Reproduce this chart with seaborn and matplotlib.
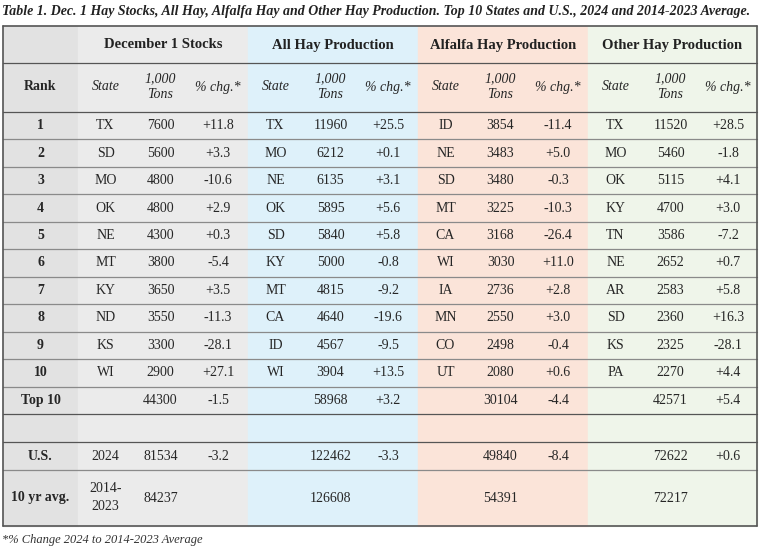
import matplotlib
matplotlib.use("Agg")
import matplotlib.pyplot as plt
import seaborn as sns
from matplotlib.patches import Rectangle

sns.set_theme(style="white")
plt.rcParams['font.family'] = ['Liberation Serif', 'DejaVu Serif']

ranks = ["1", "2", "3", "4", "5", "6", "7", "8", "9", "10"]
stock_states = ["TX", "SD", "MO", "OK", "NE", "MT", "KY", "ND", "KS", "WI"]
stock_tons = [7600, 5600, 4800, 4800, 4300, 3800, 3650, 3550, 3300, 2900]
stock_pct = ["+11.8", "+3.3", "-10.6", "+2.9", "+0.3", "-5.4", "+3.5", "-11.3", "-28.1", "+27.1"]
all_states = ["TX", "MO", "NE", "OK", "SD", "KY", "MT", "CA", "ID", "WI"]
all_tons = [11960, 6212, 6135, 5895, 5840, 5000, 4815, 4640, 4567, 3904]
all_pct = ["+25.5", "+0.1", "+3.1", "+5.6", "+5.8", "-0.8", "-9.2", "-19.6", "-9.5", "+13.5"]
alf_states = ["ID", "NE", "SD", "MT", "CA", "WI", "IA", "MN", "CO", "UT"]
alf_tons = [3854, 3483, 3480, 3225, 3168, 3030, 2736, 2550, 2498, 2080]
alf_pct = ["-11.4", "+5.0", "-0.3", "-10.3", "-26.4", "+11.0", "+2.8", "+3.0", "-0.4", "+0.6"]
oth_states = ["TX", "MO", "OK", "KY", "TN", "NE", "AR", "SD", "KS", "PA"]
oth_tons = [11520, 5460, 5115, 4700, 3586, 2652, 2583, 2360, 2325, 2270]
oth_pct = ["+28.5", "-1.8", "+4.1", "+3.0", "-7.2", "+0.7", "+5.8", "+16.3", "-28.1", "+4.4"]
top10_tons = [44300, 58968, 30104, 42571]
top10_pct = ["-1.5", "+3.2", "-4.4", "+5.4"]
us_tons = [81534, 122462, 49840, 72622]
us_pct = ["-3.2", "-3.3", "-8.4", "+0.6"]
avg_tons = [84237, 126608, 54391, 72217]
groups = ["December 1 Stocks", "All Hay Production", "Alfalfa Hay Production", "Other Hay Production"]
title = "Table 1. Dec. 1 Hay Stocks, All Hay, Alfalfa Hay and Other Hay Production. Top 10 States and U.S., 2024 and 2014-2023 Average."
footnote = "*% Change 2024 to 2014-2023 Average"

W, H = 767, 548
fig = plt.figure(figsize=(W / 100, H / 100), dpi=100)
ax = fig.add_axes([0, 0, 1, 1])
ax.set_xlim(0, W)
ax.set_ylim(H, 0)
ax.axis("off")

L, R, T, B = 3, 757, 26, 526
gx = [78, 248, 418, 588, 757]
sub_w = [55, 55, 60]
gcol = ["#ebebeb", "#def1fa", "#fbe4d9", "#eff5ea"]
ax.add_patch(Rectangle((L, T), gx[0] - L, B - T, color="#e2e2e2", zorder=0))
for i in range(4):
    ax.add_patch(Rectangle((gx[i], T), gx[i + 1] - gx[i], B - T, color=gcol[i], zorder=0))

rows_y = [112 + 27.5 * k for k in range(12)]  # boundaries rows 1..10 + top10
top10_bot = 414
hlines = [T, 63, 112] + [112 + (top10_bot - 112) / 11 * k for k in range(1, 12)] + [442, 470, B]
row_edges = [112 + (top10_bot - 112) / 11 * k for k in range(12)]
for y in hlines:
    lw = 1.2 if y in (T, B) else 0.9
    ax.plot([L, R], [y, y], color="#555555" if y in (T, B, 63, 112, top10_bot, 442) else "#8a8a8a", lw=lw, zorder=2)
ax.plot([L, L], [T, B], color="#555555", lw=1.2)
ax.plot([R, R], [T, B], color="#555555", lw=1.2)

ax.text(2, 12, title, fontsize=10, fontweight="bold", style="italic", va="center", ha="left", color="#222222")
ax.text(2, 540, footnote, fontsize=9, style="italic", va="center", ha="left", color="#333333")

fs = 10
ax.text((L + gx[0]) / 2, 87, "Rank", fontsize=fs, fontweight="bold", ha="center", va="center")
for i, g in enumerate(groups):
    ax.text((gx[i] + gx[i + 1]) / 2, 45, g, fontsize=fs + 0.5, fontweight="bold", ha="center", va="center", color="#222222")
    x0 = gx[i]
    centers = [x0 + 27.5, x0 + 82.5, x0 + 140]
    ax.text(centers[0], 87, "State", fontsize=fs, style="italic", ha="center", va="center")
    ax.text(centers[1], 87, "1,000\nTons", fontsize=fs, style="italic", ha="center", va="center", linespacing=1.3)
    ax.text(centers[2], 87, "% chg.*", fontsize=fs, style="italic", ha="center", va="center")

cols = [(stock_states, stock_tons, stock_pct), (all_states, all_tons, all_pct),
        (alf_states, alf_tons, alf_pct), (oth_states, oth_tons, oth_pct)]
for r in range(10):
    yc = (row_edges[r] + row_edges[r + 1]) / 2
    ax.text((L + gx[0]) / 2, yc, ranks[r], fontsize=fs, fontweight="bold", ha="center", va="center")
    for i, (s, t, p) in enumerate(cols):
        x0 = gx[i]
        ax.text(x0 + 27.5, yc, s[r], fontsize=fs, ha="center", va="center")
        ax.text(x0 + 82.5, yc, str(t[r]), fontsize=fs, ha="center", va="center")
        ax.text(x0 + 140, yc, p[r], fontsize=fs, ha="center", va="center")

def summary(yc, label, tons, pct, state=None):
    ax.text((L + gx[0]) / 2, yc, label, fontsize=fs, fontweight="bold", ha="center", va="center")
    for i in range(4):
        x0 = gx[i]
        ax.text(x0 + 82.5, yc, str(tons[i]), fontsize=fs, ha="center", va="center")
        if pct is not None:
            ax.text(x0 + 140, yc, pct[i], fontsize=fs, ha="center", va="center")
    if state:
        ax.text(gx[0] + 27.5, yc, state, fontsize=fs, ha="center", va="center", linespacing=1.5)

summary((row_edges[10] + row_edges[11]) / 2, "Top 10", top10_tons, top10_pct)
summary(456, "U.S.", us_tons, us_pct, "2024")
summary(498, "10 yr avg.", avg_tons, None, "2014-\n2023")

fig.savefig("out.png", dpi=100)
